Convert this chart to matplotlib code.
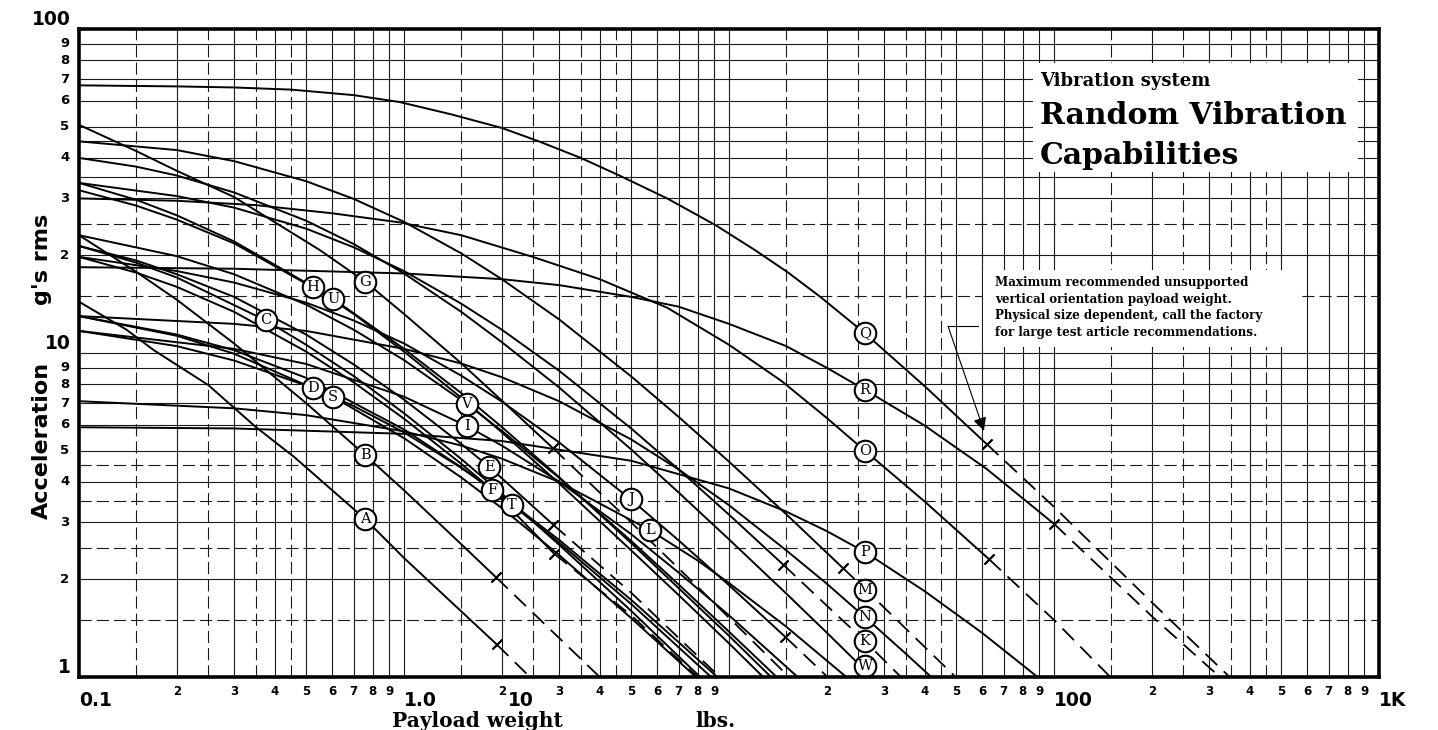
import matplotlib.pyplot as plt
from matplotlib.patches import Rectangle
from matplotlib.ticker import NullLocator

# ---- curve data (payload lbs, g's rms); *_dx/*_dy = dashed part past max payload
a_x = [0.1, 0.14, 0.17, 0.25, 0.35, 0.46, 0.76, 1.0, 1.93]
a_y = [14.4, 11.8, 10.2, 7.96, 5.91, 4.77, 3.07, 2.33, 1.26]
a_dx, a_dy = [1.93, 2.44], [1.26, 1.0]

b_x = [0.1, 0.15, 0.2, 0.3, 0.5, 0.76, 1.0, 1.5, 1.92]
b_y = [23.1, 17.8, 14.6, 10.7, 7.0, 4.84, 3.77, 2.57, 2.03]
b_dx, b_dy = [1.92, 3.0, 4.0], [2.03, 1.32, 1.0]

c_x = [0.1, 0.15, 0.2, 0.376, 0.5, 0.7, 1, 1.5, 2, 3, 5, 8.15]
c_y = [21.4, 19.0, 17.1, 12.6, 10.6, 8.49, 6.52, 4.71, 3.68, 2.56, 1.60, 1.0]

d_x = [0.1, 0.2, 0.3, 0.525, 0.7, 1, 1.5, 2, 3, 5, 7, 9.2]
d_y = [11.7, 10.5, 9.48, 7.8, 6.86, 5.69, 4.42, 3.62, 2.65, 1.73, 1.28, 1.0]

e_x = [0.1, 0.15, 0.2, 0.3, 0.5, 0.7, 1, 1.5, 1.83, 2.88]
e_y = [21.4, 19.3, 17.5, 14.9, 11.4, 9.22, 7.18, 5.24, 4.45, 2.95]
e_dx, e_dy = [2.88, 5, 7, 9.37], [2.95, 1.82, 1.32, 1.0]

f_x = [0.1, 0.15, 0.2, 0.3, 0.5, 0.7, 1, 1.5, 1.87, 2.9]
f_y = [19.8, 17.7, 16.0, 13.4, 10.1, 8.12, 6.27, 4.55, 3.78, 2.4]
f_dx, f_dy = [2.9, 5, 8.0], [2.4, 1.55, 1.0]

g_x = [0.1, 0.15, 0.2, 0.3, 0.55, 0.76, 1.0, 1.5, 2.0, 2.87]
g_y = [50.6, 42, 36.5, 30.3, 20.8, 16.6, 13.2, 9.3, 7.13, 5.09]
g_dx, g_dy = [2.87, 5, 8, 15.3], [5.09, 3.0, 1.9, 1.0]

h_x = [0.1, 0.15, 0.2, 0.3, 0.525, 0.7, 1, 1.5, 2, 3, 5, 7, 10, 12.74]
h_y = [33.5, 29.7, 26.6, 22.1, 16.0, 13.2, 10.1, 7.28, 5.69, 3.96, 2.46, 1.79, 1.27, 1.0]

i_x = [0.1, 0.3, 0.5, 1, 1.56, 2, 3, 5, 7, 10, 16.26]
i_y = [11.7, 10.3, 9.25, 7.33, 5.95, 5.18, 4.01, 2.76, 2.10, 1.55, 1.0]

j_x = [0.1, 0.2, 0.3, 0.5, 0.7, 1, 1.5, 2, 3, 4.99, 7, 10, 14.9]
j_y = [19.8, 17.9, 16.5, 14.3, 12.6, 10.7, 8.51, 7.08, 5.30, 3.53, 2.64, 1.92, 1.33]
j_dx, j_dy = [14.9, 20.1], [1.33, 1.0]

k_x = [0.1, 0.2, 0.3, 0.5, 0.7, 1, 1.5, 2, 3, 5, 7, 10, 14.7]
k_y = [33.5, 30.5, 28.1, 24.2, 21.2, 17.9, 14.2, 11.8, 8.82, 5.85, 4.37, 3.17, 2.22]
k_dx, k_dy = [14.7, 20, 26.2, 33.8], [2.22, 1.66, 1.29, 1.0]

l_x = [0.1, 0.3, 0.5, 1, 1.5, 2, 3, 5.71, 8, 10, 15, 22.96]
l_y = [7.1, 6.75, 6.43, 5.73, 5.18, 4.72, 4.0, 2.84, 2.29, 1.95, 1.43, 1.0]

m_x = [0.1, 0.2, 0.3, 0.5, 0.7, 1, 1.5, 2, 3, 5, 7, 10, 15, 22.4]
m_y = [45, 42.3, 39.1, 33.9, 29.9, 25.4, 20.3, 16.9, 12.7, 8.47, 6.35, 4.62, 3.18, 2.17]
m_dx, m_dy = [22.4, 26.2, 35, 49.8], [2.17, 1.87, 1.41, 1.0]

n_x = [0.1, 0.3, 0.5, 1, 1.5, 2, 3, 5, 7, 10, 15, 20, 26.2, 35, 41.9]
n_y = [13.0, 12.3, 11.7, 10.3, 9.28, 8.42, 7.10, 5.41, 4.37, 3.39, 2.46, 1.94, 1.53, 1.18, 1.0]

o_x = [0.1, 0.2, 0.35, 0.6, 0.97, 1.5, 2.49, 4.0, 6.45, 10, 14.5, 20, 26.2, 40, 63.1]
o_y = [30, 29.5, 28.6, 27.0, 25.3, 23.1, 19.8, 16.9, 13.8, 10.6, 8.2, 6.3, 4.99, 3.48, 2.31]
o_dx, o_dy = [63.1, 100, 149], [2.31, 1.5, 1.0]

p_x = [0.1, 0.3, 1, 2, 5, 10, 15, 20, 26.2, 40, 60, 89]
p_y = [5.9, 5.85, 5.63, 5.35, 4.65, 3.82, 3.24, 2.82, 2.43, 1.84, 1.37, 1.0]

q_x = [0.1, 0.2, 0.3, 0.45, 0.7, 0.97, 1.4, 2.0, 2.6, 3.5, 4.6, 6.45, 9.1, 12, 15.1,
       19.1, 26.2, 40, 62]
q_y = [67, 66.5, 66.0, 65.0, 62.5, 59.5, 54.5, 49.5, 45.0, 40, 35.3, 30, 24.8, 20.8,
       17.8, 14.9, 11.5, 7.9, 5.24]
q_dx, q_dy = [62, 100, 200, 347], [5.24, 3.35, 1.7, 1.0]

r_x = [0.1, 0.3, 1, 2, 3, 5, 7, 10, 15, 20, 26.2, 40, 62, 100]
r_y = [18.4, 18.2, 17.6, 16.9, 16.2, 14.9, 13.9, 12.3, 10.5, 9.0, 7.7, 5.97, 4.39, 2.97]
r_dx, r_dy = [100, 200, 324], [2.97, 1.54, 1.0]

s_x = [0.1, 0.2, 0.3, 0.605, 1, 1.5, 2, 3, 5, 7.91]
s_y = [13.0, 11.3, 9.95, 7.32, 5.46, 4.13, 3.32, 2.38, 1.52, 1.0]

t_x = [0.1, 0.2, 0.3, 0.5, 1, 1.5, 2.15, 3, 5, 8.81]
t_y = [13.0, 11.4, 10.2, 8.38, 5.81, 4.44, 3.40, 2.60, 1.68, 1.0]

u_x = [0.1, 0.15, 0.2, 0.3, 0.605, 1, 1.5, 2, 3, 5, 7, 10, 13.47]
u_y = [31.8, 28.5, 25.8, 21.8, 14.7, 10.3, 7.52, 5.91, 4.14, 2.59, 1.88, 1.34, 1.0]

v_x = [0.1, 0.2, 0.3, 0.5, 0.7, 1, 1.56, 2, 3, 5, 7, 10, 14.02]
v_y = [23.1, 19.9, 17.5, 14.1, 11.8, 9.51, 6.96, 5.75, 4.12, 2.63, 1.93, 1.38, 1.0]

w_x = [0.1, 0.15, 0.2, 0.3, 0.5, 0.7, 1, 1.5, 2, 3, 5, 7, 10, 15, 20, 26.2, 27.6]
w_y = [40, 37.6, 35.3, 31.3, 25.6, 21.7, 17.6, 13.4, 10.8, 7.83, 5.04, 3.71, 2.66, 1.81, 1.37, 1.05, 1.0]

curves = [
    (a_x, a_y, a_dx, a_dy), (b_x, b_y, b_dx, b_dy), (c_x, c_y, None, None),
    (d_x, d_y, None, None), (e_x, e_y, e_dx, e_dy), (f_x, f_y, f_dx, f_dy),
    (g_x, g_y, g_dx, g_dy), (h_x, h_y, None, None), (i_x, i_y, None, None),
    (j_x, j_y, j_dx, j_dy), (k_x, k_y, k_dx, k_dy), (l_x, l_y, None, None),
    (m_x, m_y, m_dx, m_dy), (n_x, n_y, None, None), (o_x, o_y, o_dx, o_dy),
    (p_x, p_y, None, None), (q_x, q_y, q_dx, q_dy), (r_x, r_y, r_dx, r_dy),
    (s_x, s_y, None, None), (t_x, t_y, None, None), (u_x, u_y, None, None),
    (v_x, v_y, None, None), (w_x, w_y, None, None),
]

# circled curve letters
label_names = list("ABCDEFGHIJKLMNOPQRSTUVW")
label_x = [0.76, 0.76, 0.376, 0.525, 1.83, 1.87, 0.76, 0.525, 1.56, 4.99, 26.2, 5.71,
           26.2, 26.2, 26.2, 26.2, 26.2, 26.2, 0.605, 2.15, 0.605, 1.56, 26.2]
label_y = [3.07, 4.84, 12.6, 7.8, 4.45, 3.78, 16.6, 16.0, 5.95, 3.54, 1.29, 2.84,
           1.86, 1.53, 4.99, 2.43, 11.5, 7.7, 7.32, 3.40, 14.7, 6.96, 1.08]

decades_x = [0.1, 1, 10, 100]
decade_x_labels = ["0.1", "1.0", "", "100"]
minor_digits = [2, 3, 4, 5, 6, 7, 8, 9]
half_steps = [1.5, 2.5, 3.5, 4.5]

fig = plt.figure(figsize=(14.38, 7.30), dpi=100)
ax = fig.add_axes([79 / 1438, 53 / 730, 1300 / 1438, 648 / 730])
ax.set_xscale('log')
ax.set_yscale('log')
ax.set_xlim(0.1, 1000)
ax.set_ylim(1, 100)
for axis in (ax.xaxis, ax.yaxis):
    axis.set_major_locator(NullLocator())
    axis.set_minor_locator(NullLocator())
for sp in ax.spines.values():
    sp.set_linewidth(2.6)
    sp.set_zorder(10)

grid_col = '#1a1a1a'
dash = (0, (11, 4.5))
# vertical grid
for d in decades_x:
    if d > 0.1:
        ax.axvline(d, color=grid_col, lw=0.8, zorder=1)
    for k in minor_digits:
        ax.axvline(k * d, color=grid_col, lw=0.8, zorder=1)
    for h in half_steps:
        ax.axvline(h * d, color=grid_col, lw=0.8, ls=dash, zorder=1)
# horizontal grid
ax.axhline(10, color=grid_col, lw=0.8, zorder=1)
for d in [1, 10]:
    for k in minor_digits:
        ax.axhline(k * d, color=grid_col, lw=0.8, zorder=1)
    for h in half_steps:
        if d == 10 and h > 3:
            ax.axhline(h * d, color=grid_col, lw=0.8, zorder=1)
        else:
            ax.axhline(h * d, color=grid_col, lw=0.8, ls=dash, zorder=1)

# curves
for cx, cy, dx, dy in curves:
    ax.plot(cx, cy, color='black', lw=1.4, zorder=3, solid_joinstyle='round')
    if dx is not None:
        ax.plot(dx, dy, color='black', lw=1.3, ls=(0, (9, 5)), zorder=3)
        ax.plot(cx[-1], cy[-1], marker=(2, 2, -45), ms=10, mew=1.4,
                color='black', zorder=4)

for name, lx, ly in zip(label_names, label_x, label_y):
    ax.plot(lx, ly, 'o', ms=15.5, mfc='white', mec='black', mew=1.5, zorder=6)
    ax.text(lx, ly, name, ha='center', va='center', fontsize=10.5,
            family='DejaVu Serif', zorder=7)

# title box
ax.add_patch(Rectangle((1033 / 1438, 1 - 172 / 730), 325 / 1438, 109 / 730,
                       transform=fig.transFigure, facecolor='white',
                       edgecolor='none', zorder=5))
fig.text(1040 / 1438, 1 - 86 / 730, "Vibration system", family='DejaVu Serif',
         weight='bold', fontsize=13, va='baseline', zorder=8)
fig.text(1040 / 1438, 1 - 124 / 730, "Random Vibration", family='DejaVu Serif',
         weight='bold', fontsize=21.5, va='baseline', zorder=8)
fig.text(1040 / 1438, 1 - 164 / 730, "Capabilities", family='DejaVu Serif',
         weight='bold', fontsize=21.5, va='baseline', zorder=8)

# note box
ax.add_patch(Rectangle((983 / 1438, 1 - 347 / 730), 319 / 1438, 77 / 730,
                       transform=fig.transFigure, facecolor='white',
                       edgecolor='none', zorder=5))
note_lines = ["Maximum recommended unsupported",
              "vertical orientation payload weight.",
              "Physical size dependent, call the factory",
              "for large test article recommendations."]
for i, line in enumerate(note_lines):
    fig.text(995 / 1438, 1 - (286 + 16.7 * i) / 730, line, family='DejaVu Serif',
             weight='bold', fontsize=8.6, va='baseline', zorder=8)
ax.plot([47.2, 58.3], [12.1, 12.1], color='black', lw=0.8, zorder=4)
ax.annotate('', xy=(60.9, 5.75), xytext=(47.2, 12.1),
            arrowprops=dict(arrowstyle='-|>', color='black', lw=0.8,
                            mutation_scale=20, shrinkA=0, shrinkB=0), zorder=4)

# tick labels
xt = ax.get_xaxis_transform()
yt = ax.get_yaxis_transform()
tick_font = dict(family='DejaVu Sans', weight='bold')
for d, lab in zip(decades_x, decade_x_labels):
    for k in minor_digits:
        ax.text(k * d, -0.023, str(k), transform=xt, ha='center', va='center',
                fontsize=8.5, **tick_font)
    if lab:
        ax.text(d, -0.037, lab, transform=xt, ha='left', va='center',
                fontsize=13.5, **tick_font)
ax.text(1000, -0.037, "1K", transform=xt, ha='left', va='center',
        fontsize=13.5, **tick_font)
for d in [1, 10]:
    for k in minor_digits:
        ax.text(-0.0108, k * d, str(k), transform=yt, ha='center', va='center',
                fontsize=9.5, **tick_font)
for d, lab in zip([1, 10, 100], ["1", "10", "100"]):
    ax.text(-0.006, d, lab, transform=yt, ha='right', va='bottom',
            fontsize=13.5, **tick_font)

# axis titles
fig.text(42 / 1438, 1 - 440 / 730, "Acceleration", rotation=90, ha='center',
         va='center', fontsize=16, **tick_font)
fig.text(42 / 1438, 1 - 259 / 730, "g's rms", rotation=90, ha='center',
         va='center', fontsize=16, **tick_font)
fig.text(392 / 1438, 1 - 721 / 730, "Payload weight", ha='left', va='center',
         fontsize=14.5, family='DejaVu Serif', weight='bold')
fig.text(521 / 1438, 1 - 700 / 730, "10", ha='center', va='center',
         fontsize=13.5, **tick_font)
fig.text(695 / 1438, 1 - 721 / 730, "lbs.", ha='left', va='center',
         fontsize=14.5, family='DejaVu Serif', weight='bold')

fig.savefig('out.png', dpi=100)
